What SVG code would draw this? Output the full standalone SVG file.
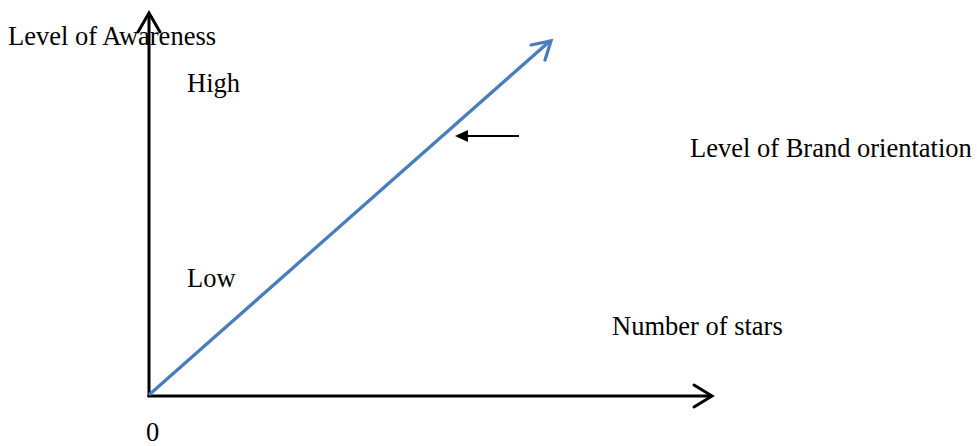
<svg xmlns="http://www.w3.org/2000/svg" width="977" height="446" viewBox="0 0 977 446">
<style>
text{font-family:"Liberation Serif","Times New Roman",serif;font-size:26.5px;fill:#000}
.axis{stroke:#000;stroke-width:3;fill:none}
.head{stroke:#000;stroke-width:3;fill:none;stroke-linecap:round}
.blue{stroke:#4a7ebb;stroke-width:3.3;fill:none;stroke-linecap:round}
</style>
<rect width="977" height="446" fill="#fff"/>
<g id="connectors">
<line class="axis" x1="149" y1="397" x2="149" y2="13"/>
<polyline class="head" points="138,32 149,13 160,32"/>
<line class="axis" x1="147.5" y1="396" x2="712" y2="396"/>
<polyline class="head" points="694,385 712,396 694,407"/>
<line class="blue" x1="150" y1="394" x2="550" y2="41"/>
<polyline class="blue" points="531,45 551,41 545,60"/>
<line x1="519" y1="136" x2="465" y2="136" stroke="#000" stroke-width="2"/>
<polygon points="455,136 468,130 468,142" fill="#000"/>
</g>
<g id="labels">
<text x="8" y="45">Level of Awareness</text>
<text x="187" y="92">High</text>
<text x="187" y="287">Low</text>
<text x="690" y="157">Level of Brand orientation</text>
<text x="612" y="335">Number of stars</text>
<text x="146" y="441">0</text>
</g>
</svg>
